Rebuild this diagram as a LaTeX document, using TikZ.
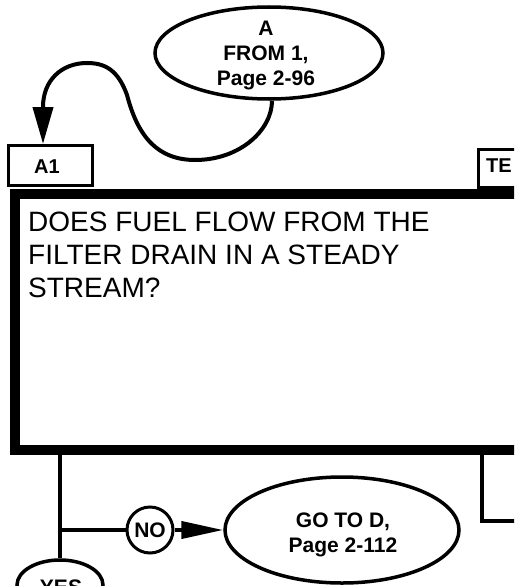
\documentclass[tikz,border=0pt]{standalone}
\usepackage{fontspec}
\setmainfont{Liberation Sans}
\usetikzlibrary{shapes.geometric,arrows.meta}
\begin{document}
\begin{tikzpicture}[x=1pt,y=1pt,
  lbl/.style={font=\fontsize{21}{25}\selectfont\bfseries, align=center, inner sep=0pt},
  ln/.style={line width=4pt},
  ell/.style={draw, ellipse, line width=3.5pt, inner sep=0pt},
  tabbox/.style={draw, line width=2.5pt, rectangle, inner sep=0pt, fill=white}]
\useasboundingbox (0,0) rectangle (514,-586);
\clip (0,0) rectangle (514,-586);
% top connector ellipse
\node[ell, minimum width=228pt, minimum height=92pt] (top) at (269,-53) {};
\node[lbl] (toptext) at (266,-56) {A\\FROM 1,\\Page 2-96};
% tabs
\node[tabbox, anchor=north west, minimum width=84pt, minimum height=40pt] (a1) at (7,-144) {};
\node[lbl, font=\fontsize{20}{24}\selectfont\bfseries] (a1text) at (47,-167) {A1};
\node[tabbox, anchor=north west, minimum width=60pt, minimum height=38pt] (te) at (477,-148) {};
\node[lbl, anchor=west, font=\fontsize{20}{24}\selectfont\bfseries] (tetext) at (486,-166) {TE};
% main box
\node[draw, line width=10pt, anchor=north west, minimum width=506pt, minimum height=256pt, inner sep=0pt] (box) at (10,-189) {};
\node[anchor=north west, inner sep=0pt, align=left, font=\fontsize{28}{33}\selectfont] (q) at (28,-212) {DOES FUEL FLOW FROM THE\\FILTER DRAIN IN A STEADY\\STREAM?};
% curve from top ellipse to A1
\coordinate (tip) at (43,-144);
\draw[ln, -{Triangle[length=37pt,width=20pt]}] ([xshift=3pt]top.south) .. controls (272,-130) and (240,-160) .. (195,-160) .. controls (150,-160) and (135,-125) .. (127,-95) .. controls (118,-70) and (105,-63) .. (87,-63) .. controls (62,-63) and (43,-80) .. (43,-107) -- (tip);
% lower nodes
\node[ell, minimum width=234pt, minimum height=106pt] (goto) at (342,-530) {};
\node[lbl] (gototext) at (343,-535) {GO TO D,\\Page 2-112};
\node[draw, circle, line width=3pt, minimum size=46pt, inner sep=0pt, font=\fontsize{21}{25}\selectfont\bfseries] (no) at (150,-530) {NO};
\node[ell, minimum width=86pt, minimum height=50pt] (yes) at (60,-585) {};
\node[lbl] (yestext) at (61,-587) {YES};
\coordinate (j) at (60,-530);
\coordinate (r) at (482,-521);
\coordinate (redge) at (520,-521);
\draw[ln] (box.south west -| j) -- (yes.north);
\draw[ln] (j) -- (no.west);
\draw[ln, -{Triangle[length=42pt,width=17pt]}] (no.east) -- (goto.west);
\draw[ln] (box.south west -| r) -- (r) -- (redge);
\end{tikzpicture}
\end{document}
